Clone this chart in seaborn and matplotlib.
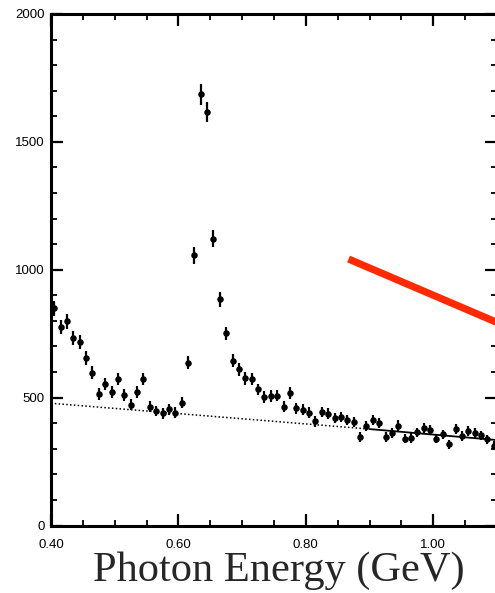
import numpy as np
import pandas as pd
import matplotlib
matplotlib.use("Agg")
import matplotlib.pyplot as plt
from matplotlib.ticker import MultipleLocator, FormatStrFormatter
import seaborn as sns

# Photon energy spectrum: bin centres (GeV), counts per bin and their errors
energy = [
    0.405, 0.415, 0.425, 0.435, 0.445, 0.455, 0.465, 0.475, 0.485, 0.495,
    0.505, 0.515, 0.525, 0.535, 0.545, 0.555, 0.565, 0.575, 0.585, 0.595,
    0.605, 0.615, 0.625, 0.635, 0.645, 0.655, 0.665, 0.675, 0.685, 0.695,
    0.705, 0.715, 0.725, 0.735, 0.745, 0.755, 0.765, 0.775, 0.785, 0.795,
    0.805, 0.815, 0.825, 0.835, 0.845, 0.855, 0.865, 0.875, 0.885, 0.895,
    0.905, 0.915, 0.925, 0.935, 0.945, 0.955, 0.965, 0.975, 0.985, 0.995,
    1.005, 1.015, 1.025, 1.035, 1.045, 1.055, 1.065, 1.075, 1.085, 1.095,
]
counts = [
    849, 777, 798, 733, 717, 655, 598, 515, 552, 522,
    574, 509, 472, 522, 573, 465, 448, 439, 454, 441,
    480, 637, 1056, 1687, 1616, 1121, 884, 751, 644, 611,
    575, 573, 532, 502, 506, 508, 465, 518, 458, 453,
    441, 407, 444, 437, 420, 424, 412, 405, 346, 390,
    414, 400, 346, 363, 391, 339, 342, 364, 380, 374,
    339, 356, 317, 378, 350, 370, 361, 352, 337, 312,
]
errors = [
    29, 28, 28, 27, 27, 26, 24, 23, 23, 23,
    24, 23, 22, 23, 24, 22, 21, 21, 21, 21,
    22, 25, 32, 41, 40, 33, 30, 27, 25, 25,
    24, 24, 23, 22, 22, 23, 22, 23, 21, 21,
    21, 20, 21, 21, 20, 21, 20, 20, 19, 20,
    20, 20, 19, 19, 20, 18, 18, 19, 19, 19,
    18, 19, 18, 19, 19, 19, 19, 19, 18, 18,
]

# Smooth background under the peak (dotted below 0.90 GeV, solid above)
bg_low_x = [0.40, 0.90]
bg_low_y = [478, 377]
bg_high_x = [0.90, 1.10]
bg_high_y = [377, 334]

# Red marker stroke
red_x = [0.867, 1.10]
red_y = [1042, 794]

df = pd.DataFrame({"energy": energy, "counts": counts, "err": errors})

sns.set_style("ticks")
plt.rcParams["font.family"] = ["Liberation Sans", "DejaVu Sans"]

fig = plt.figure(figsize=(4.95, 5.93), dpi=100)
ax = fig.add_axes([51 / 495, 67.5 / 593, 446 / 495, 511.5 / 593])

ax.errorbar(df["energy"], df["counts"], yerr=df["err"], fmt="none",
            ecolor="black", elinewidth=1.6, capsize=0, zorder=3)
sns.scatterplot(data=df, x="energy", y="counts", ax=ax, color="black",
                s=22, edgecolor="black", linewidth=0, zorder=4, legend=False)

sns.lineplot(x=bg_low_x, y=bg_low_y, ax=ax, color="black",
             linestyle=(0, (1, 1.5)), linewidth=1.1, zorder=2)
sns.lineplot(x=bg_high_x, y=bg_high_y, ax=ax, color="black",
             linewidth=1.3, zorder=2)
sns.lineplot(x=red_x, y=red_y, ax=ax, color="#ff2a00",
             linewidth=5.2, solid_capstyle="butt", zorder=5)

ax.set_xlim(0.40, 1.10)
ax.set_ylim(0, 2000)

ax.xaxis.set_major_locator(MultipleLocator(0.2))
ax.xaxis.set_minor_locator(MultipleLocator(0.05))
ax.xaxis.set_major_formatter(FormatStrFormatter("%.2f"))
ax.yaxis.set_major_locator(MultipleLocator(500))
ax.yaxis.set_minor_locator(MultipleLocator(100))

for side in ["left", "bottom", "top", "right"]:
    ax.spines[side].set_visible(True)
    ax.spines[side].set_linewidth(2.2)
    ax.spines[side].set_color("black")

ax.tick_params(which="both", direction="in", top=True, right=True,
               colors="black", labelsize=9.5)
ax.tick_params(which="major", length=8.5, width=1.6)
ax.tick_params(which="minor", length=4.3, width=1.3)
ax.tick_params(axis="x", which="major", pad=10)
ax.tick_params(axis="y", which="major", pad=4.5)

ax.set_ylabel("")
ax.set_xlabel("Photon Energy (GeV)", family=["Liberation Serif", "DejaVu Serif"],
              fontsize=30.5, labelpad=0)
ax.xaxis.set_label_coords(0.51, -0.050)
ax.xaxis.label.set_verticalalignment("top")

fig.savefig("out.png", dpi=100)
